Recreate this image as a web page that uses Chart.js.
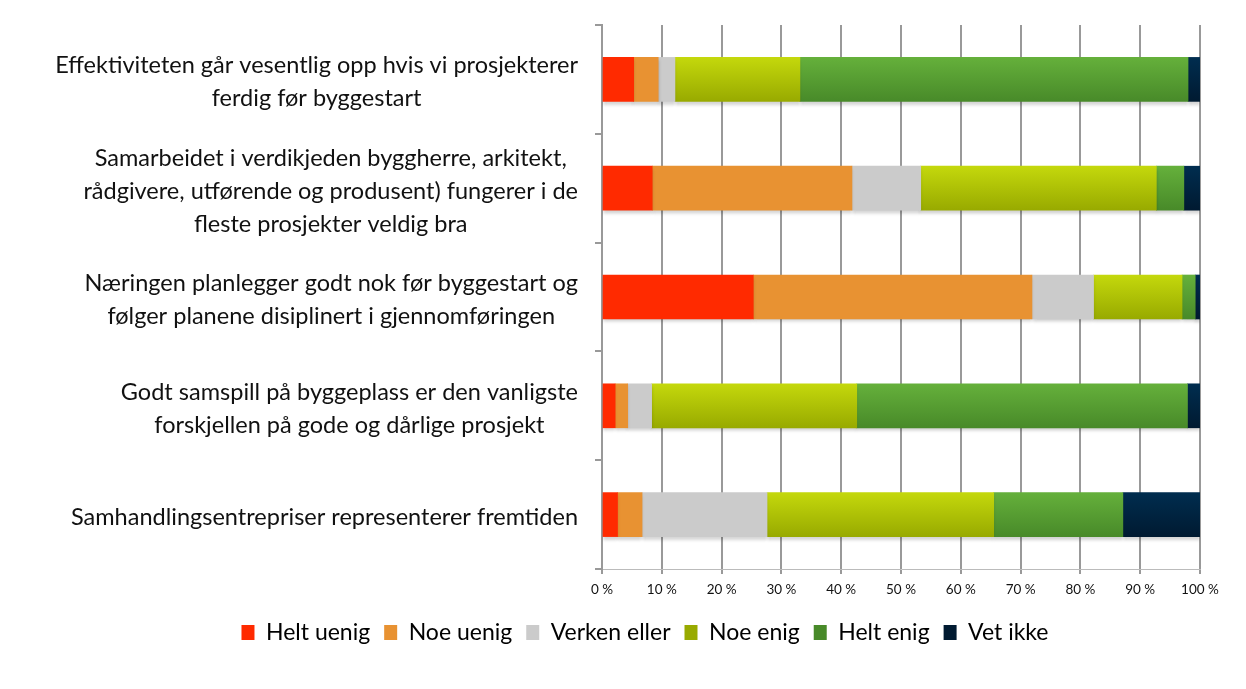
<!DOCTYPE html>
<html>
<head>
<meta charset="utf-8">
<script src="https://cdn.jsdelivr.net/npm/chart.js@4.4.1/dist/chart.umd.min.js"></script>
<style>
  html, body { margin: 0; padding: 0; background: #fff; }
  #wrap { width: 1246px; height: 689px; position: relative; }
</style>
</head>
<body>
<div id="wrap"><canvas id="c" width="1246" height="689"></canvas></div>
<script>
const categories = [
  ["Effektiviteten går vesentlig opp hvis vi prosjekterer", "ferdig før byggestart"],
  ["Samarbeidet i verdikjeden byggherre, arkitekt,", "rådgivere, utførende og produsent) fungerer i de", "fleste prosjekter veldig bra"],
  ["Næringen planlegger godt nok før byggestart og", "følger planene disiplinert i gjennomføringen"],
  ["Godt samspill på byggeplass er den vanligste", "forskjellen på gode og dårlige prosjekt"],
  ["Samhandlingsentrepriser representerer fremtiden"]
];
const seriesNames = ["Helt uenig", "Noe uenig", "Verken eller", "Noe enig", "Helt enig", "Vet ikke"];
const heltUenig   = [5.3, 8.4, 25.3, 2.2, 2.6];
const noeUenig    = [4.1, 33.4, 46.6, 2.1, 4.1];
const verkenEller = [2.8, 11.5, 10.3, 4.0, 20.9];
const noeEnig     = [20.9, 39.4, 14.8, 34.3, 37.9];
const heltEnig    = [64.9, 4.6, 2.2, 55.3, 21.6];
const vetIkke     = [2.0, 2.7, 0.8, 2.1, 12.9];
const tickLabels  = ["0 %", "10 %", "20 %", "30 %", "40 %", "50 %", "60 %", "70 %", "80 %", "90 %", "100 %"];

const LABEL_FONT = 'Lato, "Open Sans", sans-serif';
const BAR_THICK = 44;

// colours: [top, bottom] ; flat ones have equal stops
const palette = [
  ["#ff2a00", "#ff2a00"],
  ["#e89232", "#e89232"],
  ["#cbcbcb", "#cbcbcb"],
  ["#c4d80c", "#98aa00"],
  ["#65b03b", "#488a29"],
  ["#002d4f", "#001a31"]
];

function gradFill(idx) {
  return function(ctx) {
    const chart = ctx.chart;
    const top = palette[idx][0], bot = palette[idx][1];
    if (top === bot) return top;
    const ys = chart.scales && chart.scales.y;
    if (ctx.dataIndex === undefined || !ys || !chart.chartArea) return top;
    const cy = ys.getPixelForValue(ctx.dataIndex);
    const g = chart.ctx.createLinearGradient(0, cy - BAR_THICK / 2, 0, cy + BAR_THICK / 2);
    g.addColorStop(0, top);
    g.addColorStop(1, bot);
    return g;
  };
}

const seriesData = [heltUenig, noeUenig, verkenEller, noeEnig, heltEnig, vetIkke];
const datasets = seriesNames.map((name, i) => ({
  label: name,
  data: seriesData[i],
  backgroundColor: gradFill(i),
  borderWidth: 0,
  barThickness: BAR_THICK
}));

const labelPlugin = {
  id: 'catLabels',
  afterDraw(chart) {
    const ctx = chart.ctx;
    const ys = chart.scales.y;
    const right = chart.chartArea.left - 24;
    ctx.save();
    ctx.font = '100px ' + LABEL_FONT;
    const ref = ctx.measureText(categories[0][0]).width;
    const size = 100 * 523 / ref;
    ctx.font = size.toFixed(2) + 'px ' + LABEL_FONT;
    ctx.fillStyle = '#111';
    ctx.textAlign = 'center';
    ctx.textBaseline = 'middle';
    const lh = 33;
    categories.forEach((lines, i) => {
      const cy = ys.getPixelForValue(i) + 3;
      let maxW = 0;
      lines.forEach(l => { maxW = Math.max(maxW, ctx.measureText(l).width); });
      const cx = right - maxW / 2;
      const y0 = cy - (lines.length - 1) * lh / 2;
      lines.forEach((l, k) => ctx.fillText(l, cx, y0 + k * lh));
    });
    ctx.restore();
  }
};

const shadowPlugin = {
  id: 'barShadow',
  beforeDatasetsDraw(chart) {
    const ctx = chart.ctx;
    ctx.save();
    ctx.shadowColor = 'rgba(0,0,0,0.18)';
    ctx.shadowOffsetY = 3;
    ctx.shadowBlur = 3;
  },
  afterDatasetsDraw(chart) {
    chart.ctx.restore();
  }
};

new Chart(document.getElementById('c'), {
  type: 'bar',
  data: { labels: categories.map((c, i) => String(i)), datasets },
  options: {
    indexAxis: 'y',
    responsive: false,
    animation: false,
    layout: { padding: { left: 90, right: 46, top: 25, bottom: 35 } },
    plugins: {
      tooltip: { enabled: false },
      legend: {
        position: 'bottom',
        labels: {
          color: '#000',
          font: { family: LABEL_FONT, size: 23 },
          boxWidth: 13,
          boxHeight: 15,
          padding: 14
        }
      }
    },
    scales: {
      x: {
        stacked: true,
        min: 0,
        max: 100,
        ticks: {
          stepSize: 10,
          color: '#111',
          font: { family: LABEL_FONT, size: 13.5 },
          padding: 8,
          callback: (v, i) => tickLabels[i]
        },
        grid: { color: '#999', lineWidth: 2, tickLength: 5, drawTicks: true },
        border: { color: '#bbb', width: 1 },
        afterFit(scale) { scale.height = 38; }
      },
      y: {
        stacked: true,
        ticks: { display: false },
        grid: { offset: true, drawOnChartArea: false, color: '#999', lineWidth: 2, tickLength: 7 },
        border: { color: '#999', width: 2 },
        afterFit(scale) { scale.width = 512; }
      }
    }
  },
  plugins: [labelPlugin, shadowPlugin]
});
</script>
</body>
</html>
